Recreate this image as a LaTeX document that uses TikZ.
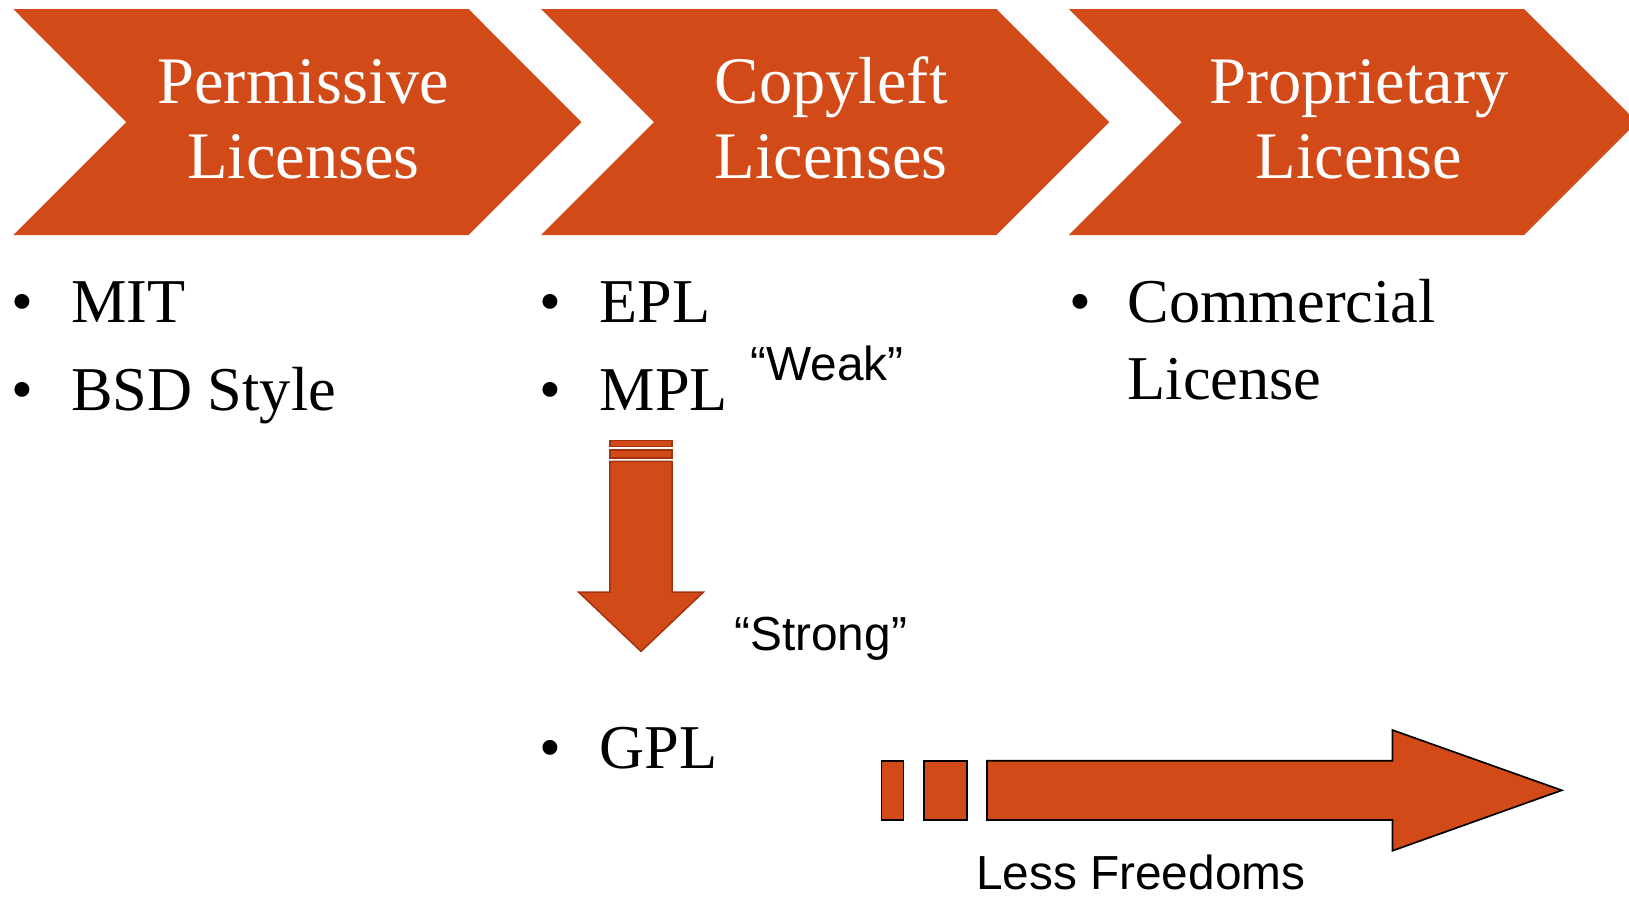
\documentclass[tikz,border=0pt]{standalone}
\usepackage{fontspec}
\setmainfont{Liberation Serif}
\newfontfamily\arialfont{Liberation Sans}
\definecolor{lorange}{RGB}{209,74,24}
\definecolor{ldark}{RGB}{160,50,12}
\begin{document}
\begin{tikzpicture}[x=0.5pt,y=-0.5pt,
  chev/.style={fill=lorange},
  title/.style={text=white,font=\fontsize{32}{37}\selectfont,anchor=base,inner sep=0},
  item/.style={font=\fontsize{30}{36}\selectfont,anchor=base west,inner sep=0},
  dot/.style={font=\fontsize{30}{36}\selectfont,anchor=base,inner sep=0},
  note/.style={font=\arialfont\fontsize{23}{27}\selectfont,anchor=base,inner sep=0},
  downpart/.style={fill=lorange,draw=ldark,line width=0.7pt},
  rightpart/.style={fill=lorange,draw=black,line width=0.8pt},
]
\useasboundingbox (0,0) rectangle (1568,863.4);
% chevrons
\foreach \dx in {0,508,1016}{
  \fill[chev] (12.8+\dx,8.7) -- (451+\dx,8.7) -- (559.7+\dx,117.45) -- (451+\dx,226.2) -- (12.8+\dx,226.2) -- (121.5+\dx,117.45) -- cycle;
}
% chevron titles
\node[title] (t1a) at (292,100) {Permissive};
\node[title] (t1b) at (292,172) {Licenses};
\node[title] (t2a) at (800,100) {Copyleft};
\node[title] (t2b) at (800,172) {Licenses};
\node[title] (t3a) at (1308,100) {Proprietary};
\node[title] (t3b) at (1308,172) {License};
% column 1
\node[dot] (b1) at (22,310) {•};
\node[item] (mit) at (68,310) {MIT};
\node[dot] (b2) at (22,395) {•};
\node[item] (bsd) at (68,395) {BSD Style};
% column 2
\node[dot] (b3) at (530,310) {•};
\node[item] (epl) at (577,310) {EPL};
\node[dot] (b4) at (530,395) {•};
\node[item] (mpl) at (577,395) {MPL};
\node[dot] (b5) at (530,740) {•};
\node[item] (gpl) at (577,740) {GPL};
% column 3
\node[dot] (b6) at (1040,310) {•};
\node[item] (com) at (1085,310) {Commercial};
\node[item] (lic) at (1085,385) {License};
% notes
\node[note] (weak) at (796,366) {“Weak”};
\node[note] (strong) at (790,626) {“Strong”};
\node[note] (less) at (1098,856) {Less Freedoms};
% down arrow (striped)
\draw[downpart] (587,424) rectangle (647,430);
\draw[downpart] (587,433) rectangle (647,441);
\draw[downpart] (587,444) -- (647,444) -- (647,570) -- (677,570) -- (617,627) -- (557,570) -- (587,570) -- cycle;
% right arrow (striped)
\draw[rightpart] (848.6,732.2) rectangle (869.6,789.3);
\draw[rightpart] (889.5,732.2) rectangle (931,789.3);
\draw[rightpart] (950,732.2) -- (1340.3,732.2) -- (1340.3,702.7) -- (1503.3,760.7) -- (1340.3,818.9) -- (1340.3,789.3) -- (950,789.3) -- cycle;
\end{tikzpicture}
\end{document}
